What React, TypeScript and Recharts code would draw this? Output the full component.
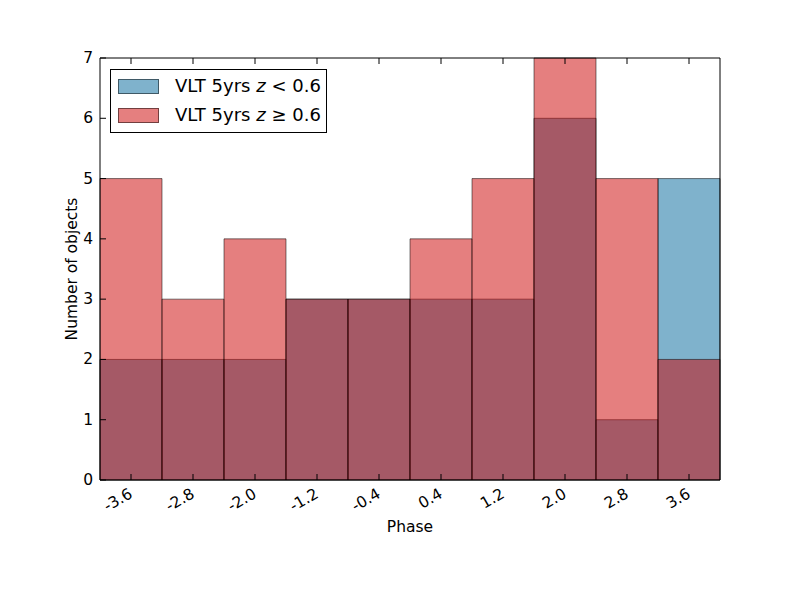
import React from 'react';
import { ComposedChart, Bar, XAxis, YAxis, Legend, Label } from 'recharts';

const phaseLabels = ['-3.6', '-2.8', '-2.0', '-1.2', '-0.4', '0.4', '1.2', '2.0', '2.8', '3.6'];
const lowZCounts = [2, 2, 2, 3, 3, 3, 3, 6, 1, 5];
const highZCounts = [5, 3, 4, 3, 3, 4, 5, 7, 5, 2];
const yTicks = [0, 1, 2, 3, 4, 5, 6, 7];
const seriesNames = ['VLT 5yrs', 'VLT 5yrs'];

const data = phaseLabels.map((p, i) => ({ phase: p, low: lowZCounts[i], high: highZCounts[i] }));

const PLOT = { left: 100, right: 720, top: 58, bottom: 480 };
const FONT = 'DejaVu Sans, sans-serif';
const BLUE = 'rgba(0,102,153,0.5)';
const RED = 'rgba(204,0,0,0.5)';
const EDGE = 'rgba(0,0,0,0.5)';
const TICK = 6;
const AX = 20;

const BottomTick = (props: any) => {
  const { x, payload } = props;
  return (
    <g>
      <line x1={x} x2={x} y1={PLOT.bottom} y2={PLOT.bottom - TICK} stroke="#000" />
      <text
        x={x - 3}
        y={487}
        textAnchor="end"
        dominantBaseline="hanging"
        transform={`rotate(-30, ${x - 3}, 487)`}
        fontSize={15.5}
        fontFamily={FONT}
        fill="#000"
      >
        {payload.value}
      </text>
    </g>
  );
};

const TopTick = (props: any) => {
  const { x } = props;
  return <line x1={x} x2={x} y1={PLOT.top} y2={PLOT.top + TICK} stroke="#000" />;
};

const LeftTick = (props: any) => {
  const { y, payload } = props;
  return (
    <g>
      <line x1={PLOT.left} x2={PLOT.left + TICK} y1={y} y2={y} stroke="#000" />
      <text x={93} y={y} textAnchor="end" dominantBaseline="central" fontSize={15.5} fontFamily={FONT} fill="#000">
        {payload.value}
      </text>
    </g>
  );
};

const RightTick = (props: any) => {
  const { y } = props;
  return <line x1={PLOT.right} x2={PLOT.right - TICK} y1={y} y2={y} stroke="#000" />;
};

const LegendBox = () => (
  <div
    style={{
      border: '1px solid #000',
      background: '#fff',
      width: 215,
      height: 62,
      boxSizing: 'content-box',
      fontFamily: FONT,
      fontSize: 18,
      color: '#000',
      position: 'relative',
    }}
  >
    {[
      { color: BLUE, rel: '<' },
      { color: RED, rel: '\u2265' },
    ].map((row, i) => (
      <div key={i} style={{ position: 'absolute', left: 7, top: 8 + i * 29, height: 16, display: 'flex', alignItems: 'center' }}>
        <div style={{ width: 39, height: 13, background: row.color, border: `1px solid ${EDGE}` }} />
        <span style={{ marginLeft: 16, whiteSpace: 'nowrap', lineHeight: '16px' }}>
          {seriesNames[i]} <i>z</i> {row.rel} 0.6
        </span>
      </div>
    ))}
  </div>
);

export default function App() {
  return (
    <div style={{ position: 'absolute', left: 0, top: 0, width: 800, height: 600, background: '#fff' }}>
      <ComposedChart
        width={800}
        height={600}
        data={data}
        margin={{
          top: PLOT.top - AX,
          right: 800 - PLOT.right - AX,
          bottom: 600 - PLOT.bottom - AX,
          left: PLOT.left - AX,
        }}
        barCategoryGap={0}
        barGap={0}
      >
        <XAxis
          xAxisId="a"
          dataKey="phase"
          type="category"
          height={AX}
          axisLine={{ stroke: '#000' }}
          tickLine={false}
          tick={<BottomTick />}
          interval={0}
        >
          <Label
            content={() => (
              <text x={410} y={532} textAnchor="middle" fontSize={15.5} fontFamily={FONT} fill="#000">
                Phase
              </text>
            )}
          />
        </XAxis>
        <XAxis xAxisId="b" dataKey="phase" type="category" hide />
        <XAxis
          xAxisId="top"
          dataKey="phase"
          type="category"
          orientation="top"
          height={AX}
          axisLine={{ stroke: '#000' }}
          tickLine={false}
          tick={<TopTick />}
          interval={0}
        />
        <YAxis
          yAxisId="left"
          type="number"
          domain={[0, 7]}
          ticks={yTicks}
          width={AX}
          axisLine={{ stroke: '#000' }}
          tickLine={false}
          tick={<LeftTick />}
          interval={0}
        >
          <Label
            content={() => (
              <text
                x={72}
                y={269}
                textAnchor="middle"
                dominantBaseline="central"
                transform="rotate(-90, 72, 269)"
                fontSize={15.5}
                fontFamily={FONT}
                fill="#000"
              >
                Number of objects
              </text>
            )}
          />
        </YAxis>
        <YAxis
          yAxisId="right"
          orientation="right"
          type="number"
          domain={[0, 7]}
          ticks={yTicks}
          width={AX}
          axisLine={{ stroke: '#000' }}
          tickLine={false}
          tick={<RightTick />}
          interval={0}
        />
        <Bar xAxisId="a" yAxisId="left" dataKey="low" fill={BLUE} stroke={EDGE} strokeWidth={1} isAnimationActive={false} />
        <Bar xAxisId="b" yAxisId="left" dataKey="high" fill={RED} stroke={EDGE} strokeWidth={1} isAnimationActive={false} />
        <Legend
          layout="horizontal"
          verticalAlign="middle"
          align="center"
          content={() => <LegendBox />}
          wrapperStyle={{ left: 110, top: 69, width: 'auto', height: 'auto' }}
        />
      </ComposedChart>
    </div>
  );
}
